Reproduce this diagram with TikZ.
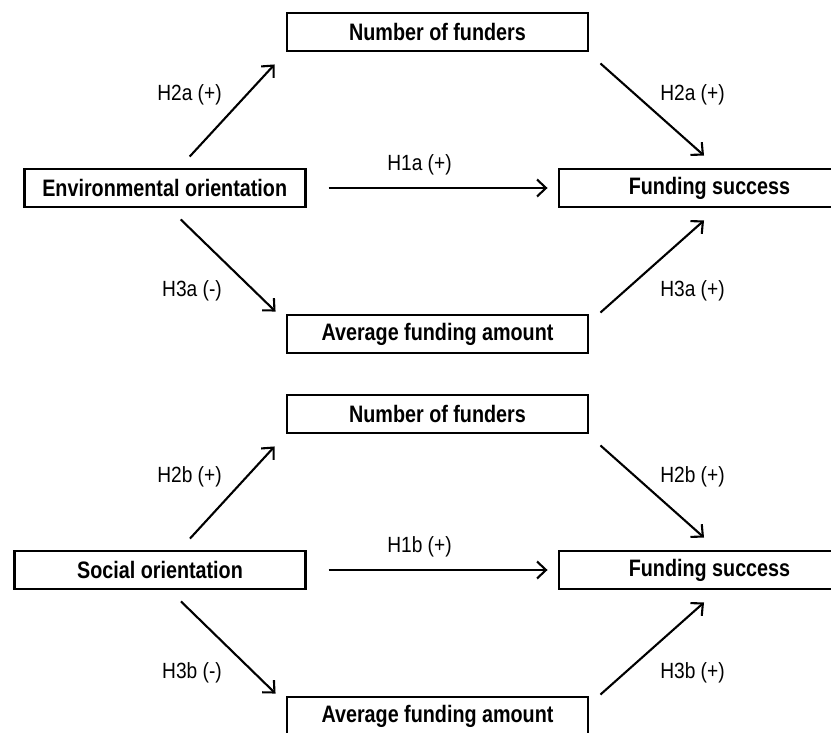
\documentclass[tikz,border=0pt]{standalone}
\usepackage{fontspec}
\setmainfont{Liberation Sans}
\newfontfamily\boxfont[FakeStretch=0.83]{Liberation Sans}
\newfontfamily\labfont[FakeStretch=0.87]{Liberation Sans}
\usetikzlibrary{arrows.meta}
\begin{document}
\begin{tikzpicture}[x=1pt,y=-1pt,
  varbox/.style={draw=black, line width=2.9pt, rectangle, minimum height=38,
    inner sep=0pt, font=\boxfont\bfseries\fontsize{23.8}{25}\selectfont},
  hyp/.style={font=\labfont\fontsize{22}{23}\selectfont, inner sep=0pt},
  link/.style={line width=2.1pt, -{Straight Barb[length=9pt,width=17pt]}}]
\useasboundingbox (0,0) rectangle (831,733);
\clip (0,0) rectangle (831,733);
\fill[white] (0,0) rectangle (831,733);

% ---- environmental orientation model ----
\node[varbox, minimum width=301] (nf1) at (437.5,32) {Number of funders};
\node[varbox, minimum width=281] (env) at (164.7,188) {Environmental orientation};
\node[varbox, minimum width=301] (fs1) at (709.5,188) {Funding success};
\node[varbox, minimum width=301] (af1) at (437.5,334) {Average funding amount};

\draw[link] ([shift={(25,-11)}]env.north) -- ([shift={(-11,12)}]nf1.south west);
\draw[link] ([shift={(11,11)}]nf1.south east) -- ([shift={(-5.5,-12)}]fs1.north);
\draw[link] ([shift={(22,0)}]env.east) -- ([shift={(-10,0)}]fs1.west);
\draw[link] ([shift={(16,11)}]env.south) -- ([shift={(-10,-2)}]af1.north west);
\draw[link] ([shift={(11,-1)}]af1.north east) -- ([shift={(-5.5,12)}]fs1.south);

\node[hyp] (h2al) at (189.5,95) {H2a (+)};
\node[hyp] (h2ar) at (692.5,95) {H2a (+)};
\node[hyp] (h1a)  at (419.5,165) {H1a (+)};
\node[hyp] (h3al) at (192,291) {H3a (-)};
\node[hyp] (h3ar) at (692.5,291) {H3a (+)};

% ---- social orientation model ----
\node[varbox, minimum width=301] (nf2) at (437.5,414) {Number of funders};
\node[varbox, minimum width=290.5] (soc) at (160,570) {Social orientation};
\node[varbox, minimum width=301] (fs2) at (709.5,570) {Funding success};
\node[varbox, minimum width=301] (af2) at (437.5,716) {Average funding amount};

\draw[link] ([shift={(30,-11)}]soc.north) -- ([shift={(-11,12)}]nf2.south west);
\draw[link] ([shift={(11,11)}]nf2.south east) -- ([shift={(-5.5,-12)}]fs2.north);
\draw[link] ([shift={(22,0)}]soc.east) -- ([shift={(-10,0)}]fs2.west);
\draw[link] ([shift={(21,11)}]soc.south) -- ([shift={(-10,-2)}]af2.north west);
\draw[link] ([shift={(11,-1)}]af2.north east) -- ([shift={(-5.5,12)}]fs2.south);

\node[hyp] (h2bl) at (189.5,477) {H2b (+)};
\node[hyp] (h2br) at (692.5,477) {H2b (+)};
\node[hyp] (h1b)  at (419.5,547) {H1b (+)};
\node[hyp] (h3bl) at (192,673) {H3b (-)};
\node[hyp] (h3br) at (692.5,673) {H3b (+)};
\end{tikzpicture}
\end{document}
